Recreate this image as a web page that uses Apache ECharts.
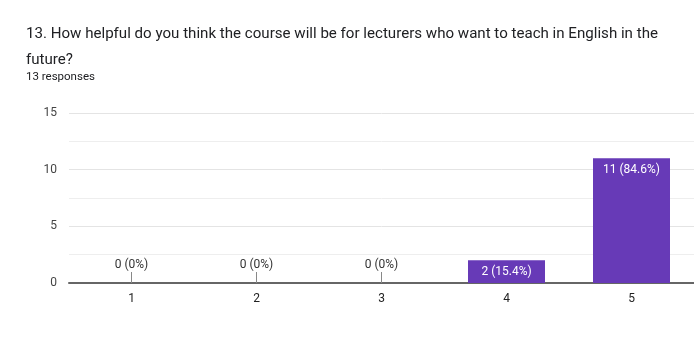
<!DOCTYPE html>
<html>
<head>
<meta charset="utf-8">
<script src="https://cdn.jsdelivr.net/npm/echarts@6/dist/echarts.min.js"></script>
<style>
  html, body { margin: 0; padding: 0; background: #fff; }
  #chart { width: 694px; height: 354px; }
</style>
</head>
<body>
<div id="chart"></div>
<script>
// data
var categories = ['1', '2', '3', '4', '5'];
var counts = [0, 0, 0, 2, 11];
var percents = ['0%', '0%', '0%', '15.4%', '84.6%'];
var yTicks = [0, 5, 10, 15];

var chart = echarts.init(document.getElementById('chart'));

var seriesData = [];
for (let i = 0; i < counts.length; i++) {
  var item = { value: counts[i] };
  if (counts[i] === 0) {
    item.label = { position: 'top', distance: 12, color: '#333' };
  }
  seriesData.push(item);
}

chart.setOption({
  textStyle: { fontFamily: 'Roboto' },
  title: [
    {
      text: '13. How helpful do you think the course will be for lecturers who want to teach in English in the\nfuture?',
      left: 21,
      top: 16,
      textStyle: { fontSize: 15.1, fontWeight: 'normal', color: '#202124', lineHeight: 26, fontFamily: 'Roboto' }
    },
    {
      text: '13 responses',
      left: 21,
      top: 66,
      textStyle: { fontSize: 11.5, fontWeight: 'normal', color: '#202124', fontFamily: 'Roboto' }
    }
  ],
  grid: { left: 69, right: 0, top: 113, bottom: 71 },
  xAxis: {
    type: 'category',
    data: categories,
    axisLine: { lineStyle: { color: '#666', width: 2 } },
    axisTick: { show: true, inside: true, alignWithLabel: true, length: 11, lineStyle: { color: '#888' } },
    axisLabel: { color: '#222', fontSize: 12, margin: 10 }
  },
  yAxis: {
    type: 'value',
    min: yTicks[0],
    max: yTicks[yTicks.length - 1],
    interval: 5,
    axisLine: { show: false },
    axisTick: { show: false },
    axisLabel: { color: '#444', fontSize: 12, margin: 12 },
    splitLine: { lineStyle: { color: '#e4e4e4' } },
    minorTick: { show: false, splitNumber: 2 },
    minorSplitLine: { show: true, lineStyle: { color: '#eeeeee' } }
  },
  series: [
    {
      type: 'bar',
      barWidth: 77,
      data: seriesData,
      itemStyle: { color: '#673ab7' },
      label: {
        show: true,
        position: 'insideTop',
        distance: 6,
        color: '#fff',
        fontSize: 12,
        formatter: function (p) { return p.value + ' (' + percents[p.dataIndex] + ')'; }
      }
    }
  ]
});
</script>
</body>
</html>
